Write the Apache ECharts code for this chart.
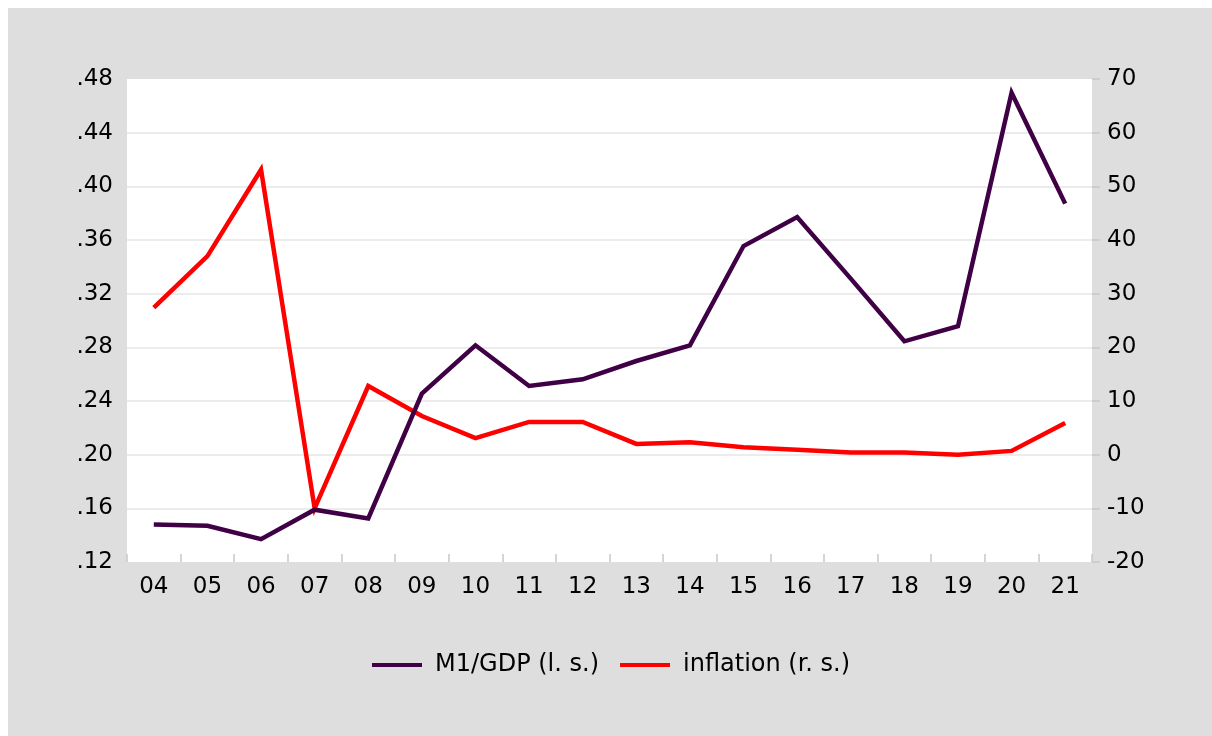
<!DOCTYPE html>
<html>
<head>
<meta charset="utf-8">
<script src="https://cdn.jsdelivr.net/npm/echarts@6/dist/echarts.min.js"></script>
<style>
  html, body { margin: 0; padding: 0; background: #fff; }
  #chart { width: 1212px; height: 736px; }
</style>
</head>
<body>
<div id="chart"></div>
<script>
// years (last two digits)
var years = ["04", "05", "06", "07", "08", "09", "10", "11", "12", "13", "14", "15", "16", "17", "18", "19", "20", "21"];
// M1/GDP ratio, left scale
var m1gdp = [0.148, 0.147, 0.137, 0.159, 0.1525, 0.2455, 0.2815, 0.2512, 0.2562, 0.2698, 0.2815, 0.3555, 0.3771, 0.3312, 0.2845, 0.2957, 0.4698, 0.3871];
// inflation, %, right scale
var inflation = [27.4, 37.0, 53.1, -10.0, 12.8, 7.2, 3.1, 6.1, 6.1, 2.0, 2.3, 1.4, 0.9, 0.4, 0.4, 0.0, 0.7, 5.9];

var font = "DejaVu Sans";
var chart = echarts.init(document.getElementById("chart"));

chart.setOption({
  animation: false,
  backgroundColor: "#ffffff",
  graphic: [
    {
      type: "rect",
      left: 8, top: 8,
      shape: { width: 1204, height: 728 },
      style: { fill: "#dedede" },
      z: -10
    }
  ],
  grid: {
    left: 127, top: 79, width: 965, height: 483,
    show: true, backgroundColor: "#ffffff", borderWidth: 0
  },
  legend: {
    left: 367, top: 648,
    itemWidth: 50, itemHeight: 4, itemGap: 21,
    icon: "rect",
    textStyle: { fontFamily: font, fontSize: 24, color: "#000", padding: [0, 0, 0, 8] },
    data: ["M1/GDP (l. s.)", "inflation (r. s.)"]
  },
  xAxis: {
    type: "category",
    data: years,
    boundaryGap: true,
    axisLine: { show: false, onZero: false },
    axisTick: { show: true, inside: true, length: 8, lineStyle: { color: "#c8c8c8", width: 1.5 } },
    axisLabel: { fontFamily: font, fontSize: 23, color: "#000", margin: 14 },
    splitLine: { show: false }
  },
  yAxis: [
    {
      type: "value",
      position: "left",
      min: 0.12, max: 0.48, interval: 0.04,
      axisLine: { show: false },
      axisTick: { show: false },
      axisLabel: {
        fontFamily: font, fontSize: 23, color: "#000", margin: 14,
        formatter: function (v) { return v.toFixed(2).replace(/^0/, ""); }
      },
      splitLine: { show: true, showMinLine: false, showMaxLine: false, lineStyle: { color: "#e6e6e6", width: 1.6 } }
    },
    {
      type: "value",
      position: "right",
      min: -20, max: 70, interval: 10,
      axisLine: { show: false },
      axisTick: { show: true, length: 8, lineStyle: { color: "#c8c8c8", width: 1.5 } },
      axisLabel: { fontFamily: font, fontSize: 23, color: "#000", margin: 15 },
      splitLine: { show: false }
    }
  ],
  series: [
    {
      name: "M1/GDP (l. s.)",
      type: "line",
      yAxisIndex: 0,
      data: m1gdp,
      symbol: "none",
      color: "#3f0045",
      lineStyle: { width: 4.5, color: "#3f0045", join: "miter" },
      z: 3
    },
    {
      name: "inflation (r. s.)",
      type: "line",
      yAxisIndex: 1,
      data: inflation,
      symbol: "none",
      color: "#ff0000",
      lineStyle: { width: 4.5, color: "#ff0000", join: "miter" },
      z: 2
    }
  ]
});
</script>
</body>
</html>
